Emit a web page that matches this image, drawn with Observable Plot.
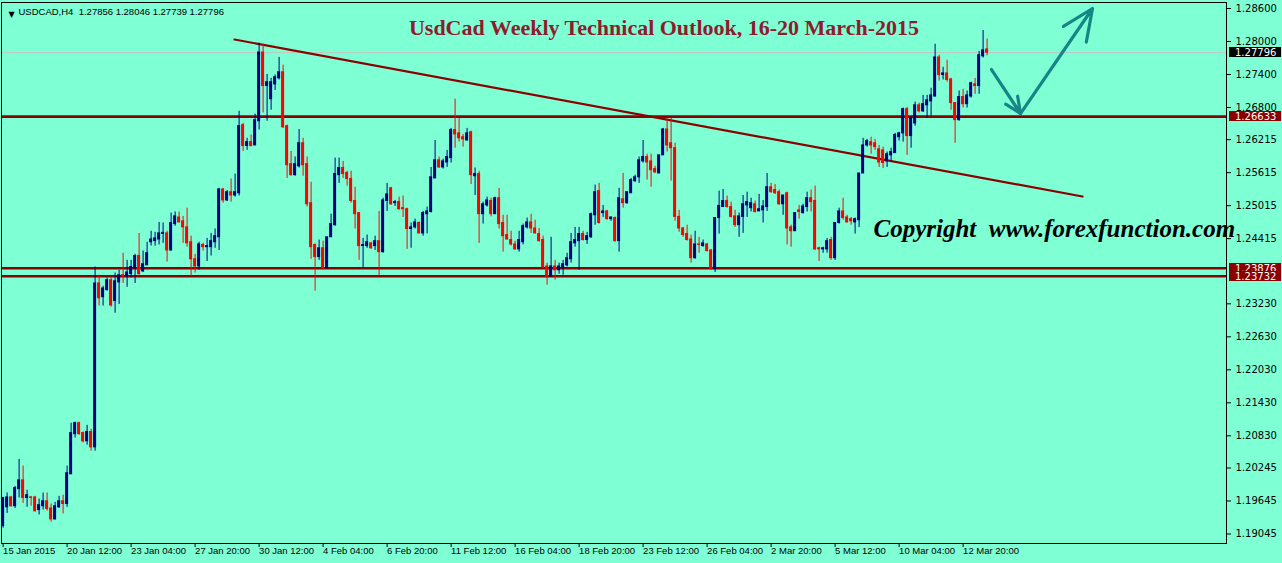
<!DOCTYPE html>
<html><head><meta charset="utf-8">
<script src="https://cdn.jsdelivr.net/npm/d3@7"></script>
<script src="https://cdn.jsdelivr.net/npm/@observablehq/plot@0.6"></script>
<style>
html,body{margin:0;padding:0;background:#7FFFD4;overflow:hidden;}
#chart svg{display:block;}
</style></head>
<body><div id="chart"></div>
<script>
// ---------- DATA (USDCAD H4, 15 Jan 20:00 -> 13 Mar 20:00, 2015) ----------
const opens = [
1.1919,1.1953,1.1971,1.1955,1.1986,1.2002,1.1970,1.1971,1.1971,1.1948,
1.1955,1.1964,1.1951,1.1931,1.1953,1.1964,1.1959,1.2013,1.2086,1.2106,
1.2088,1.2073,1.2090,1.2062,1.2360,1.2335,1.2348,1.2366,1.2328,1.2362,
1.2375,1.2373,1.2377,1.2388,1.2410,1.2382,1.2393,1.2435,1.2437,1.2440,
1.2450,1.2451,1.2420,1.2468,1.2480,1.2473,1.2462,1.2435,1.2404,1.2391,
1.2430,1.2426,1.2426,1.2435,1.2444,1.2531,1.2511,1.2526,1.2520,1.2524,
1.2648,1.2610,1.2617,1.2611,1.2655,1.2780,1.2719,1.2695,1.2722,1.2733,
1.2744,1.2646,1.2577,1.2557,1.2573,1.2615,1.2577,1.2506,1.2430,1.2408,
1.2424,1.2388,1.2444,1.2466,1.2557,1.2570,1.2561,1.2550,1.2510,1.2488,
1.2428,1.2428,1.2433,1.2428,1.2437,1.2417,1.2510,1.2533,1.2506,1.2508,
1.2497,1.2495,1.2459,1.2462,1.2470,1.2451,1.2486,1.2490,1.2551,1.2584,
1.2571,1.2580,1.2588,1.2639,1.2633,1.2626,1.2620,1.2635,1.2555,1.2559,
1.2486,1.2502,1.2510,1.2486,1.2515,1.2470,1.2448,1.2439,1.2431,1.2422,
1.2435,1.2462,1.2471,1.2460,1.2450,1.2439,1.2391,1.2373,1.2391,1.2384,
1.2388,1.2393,1.2404,1.2433,1.2437,1.2450,1.2439,1.2444,1.2484,1.2528,
1.2488,1.2491,1.2477,1.2479,1.2437,1.2513,1.2506,1.2524,1.2546,1.2553,
1.2582,1.2590,1.2582,1.2568,1.2560,1.2593,1.2640,1.2615,1.2606,1.2481,
1.2460,1.2450,1.2440,1.2406,1.2431,1.2428,1.2431,1.2420,1.2386,1.2479,
1.2499,1.2510,1.2499,1.2482,1.2466,1.2481,1.2502,1.2497,1.2504,1.2491,
1.2493,1.2499,1.2535,1.2530,1.2526,1.2504,1.2524,1.2462,1.2455,1.2493,
1.2488,1.2499,1.2515,1.2510,1.2424,1.2422,1.2422,1.2439,1.2406,1.2470,
1.2491,1.2480,1.2477,1.2471,1.2475,1.2560,1.2611,1.2617,1.2615,1.2604,
1.2602,1.2582,1.2593,1.2597,1.2626,1.2633,1.2677,1.2628,1.2651,1.2684,
1.2673,1.2684,1.2691,1.2700,1.2771,1.2739,1.2742,1.2731,1.2688,1.2657,
1.2699,1.2686,1.2700,1.2722,1.2719,1.2773,1.27856];

const highs = [
1.1971,1.1979,1.1973,1.1991,1.2040,1.2028,1.1984,1.1973,1.1973,1.1968,
1.1979,1.1979,1.1959,1.1962,1.1973,1.1975,1.2028,1.2106,1.2108,1.2108,
1.2090,1.2102,1.2095,1.2390,1.2375,1.2355,1.2370,1.2370,1.2379,1.2384,
1.2415,1.2402,1.2402,1.2413,1.2451,1.2419,1.2435,1.2455,1.2453,1.2471,
1.2470,1.2455,1.2488,1.2490,1.2490,1.2482,1.2497,1.2446,1.2413,1.2435,
1.2433,1.2442,1.2451,1.2459,1.2533,1.2533,1.2529,1.2550,1.2559,1.2673,
1.2651,1.2624,1.2630,1.2668,1.2797,1.2795,1.2740,1.2733,1.2739,1.2771,
1.2757,1.2648,1.2600,1.2590,1.2640,1.2624,1.2590,1.2544,1.2432,1.2439,
1.2437,1.2444,1.2486,1.2588,1.2588,1.2582,1.2564,1.2564,1.2535,1.2488,
1.2442,1.2448,1.2435,1.2446,1.2491,1.2515,1.2542,1.2535,1.2511,1.2517,
1.2519,1.2497,1.2470,1.2477,1.2472,1.2491,1.2499,1.2571,1.2620,1.2590,
1.2586,1.2602,1.2642,1.2695,1.2660,1.2631,1.2642,1.2637,1.2570,1.2564,
1.2508,1.2517,1.2515,1.2517,1.2533,1.2484,1.2484,1.2455,1.2437,1.2455,
1.2468,1.2479,1.2486,1.2475,1.2460,1.2446,1.2397,1.2444,1.2402,1.2397,
1.2402,1.2415,1.2451,1.2462,1.2462,1.2455,1.2453,1.2488,1.2539,1.2542,
1.2502,1.2493,1.2481,1.2481,1.2533,1.2560,1.2526,1.2551,1.2557,1.2590,
1.2620,1.2595,1.2595,1.2573,1.2593,1.2642,1.2660,1.2660,1.2615,1.2493,
1.2462,1.2466,1.2448,1.2455,1.2444,1.2439,1.2433,1.2422,1.2479,1.2528,
1.2531,1.2519,1.2508,1.2493,1.2488,1.2520,1.2526,1.2515,1.2510,1.2522,
1.2511,1.2560,1.2542,1.2540,1.2530,1.2520,1.2526,1.2466,1.2488,1.2502,
1.2504,1.2526,1.2530,1.2537,1.2426,1.2426,1.2442,1.2444,1.2470,1.2497,
1.2515,1.2484,1.2480,1.2479,1.2560,1.2624,1.2622,1.2626,1.2622,1.2611,
1.2608,1.2599,1.2606,1.2633,1.2635,1.2679,1.2680,1.2664,1.2690,1.2688,
1.2702,1.2702,1.2715,1.2795,1.2775,1.2753,1.2766,1.2733,1.2688,1.2710,
1.2713,1.2710,1.2726,1.2733,1.2782,1.2820,1.28046];

const lows = [
1.1915,1.1942,1.1953,1.1951,1.1970,1.1960,1.1953,1.1955,1.1944,1.1939,
1.1948,1.1946,1.1926,1.1930,1.1951,1.1941,1.1953,1.2013,1.2079,1.2084,
1.2070,1.2066,1.2055,1.2055,1.2319,1.2319,1.2346,1.2317,1.2306,1.2322,
1.2360,1.2353,1.2370,1.2360,1.2375,1.2380,1.2393,1.2428,1.2428,1.2430,
1.2433,1.2399,1.2419,1.2464,1.2470,1.2433,1.2426,1.2373,1.2379,1.2384,
1.2419,1.2400,1.2410,1.2424,1.2420,1.2506,1.2509,1.2508,1.2517,1.2519,
1.2600,1.2602,1.2608,1.2611,1.2639,1.2670,1.2655,1.2675,1.2711,1.2730,
1.2642,1.2551,1.2555,1.2555,1.2570,1.2555,1.2499,1.2404,1.2346,1.2402,
1.2384,1.2386,1.2444,1.2464,1.2542,1.2551,1.2537,1.2506,1.2459,1.2402,
1.2388,1.2424,1.2422,1.2420,1.2373,1.2415,1.2491,1.2502,1.2500,1.2493,
1.2480,1.2422,1.2424,1.2459,1.2450,1.2446,1.2450,1.2488,1.2551,1.2569,
1.2568,1.2571,1.2579,1.2606,1.2617,1.2608,1.2619,1.2540,1.2520,1.2433,
1.2468,1.2499,1.2481,1.2486,1.2459,1.2417,1.2439,1.2428,1.2420,1.2417,
1.2430,1.2459,1.2451,1.2450,1.2435,1.2388,1.2357,1.2371,1.2366,1.2377,
1.2375,1.2390,1.2397,1.2426,1.2384,1.2437,1.2431,1.2442,1.2466,1.2468,
1.2480,1.2475,1.2473,1.2435,1.2417,1.2497,1.2504,1.2524,1.2544,1.2542,
1.2579,1.2548,1.2535,1.2560,1.2560,1.2593,1.2599,1.2546,1.2473,1.2453,
1.2444,1.2437,1.2397,1.2404,1.2415,1.2426,1.2417,1.2384,1.2380,1.2450,
1.2499,1.2497,1.2479,1.2462,1.2444,1.2451,1.2480,1.2490,1.2488,1.2491,
1.2470,1.2491,1.2524,1.2522,1.2502,1.2484,1.2430,1.2426,1.2455,1.2477,
1.2486,1.2490,1.2490,1.2420,1.2400,1.2415,1.2415,1.2402,1.2402,1.2468,
1.2475,1.2470,1.2466,1.2450,1.2462,1.2560,1.2608,1.2595,1.2602,1.2571,
1.2569,1.2571,1.2580,1.2597,1.2619,1.2617,1.2593,1.2606,1.2646,1.2670,
1.2671,1.2660,1.2664,1.2699,1.2728,1.2730,1.2726,1.2675,1.2615,1.2655,
1.2679,1.2679,1.2697,1.2704,1.2704,1.2770,1.27739];

const closes = [
1.1970,1.1971,1.1955,1.1988,1.2002,1.1970,1.1975,1.1970,1.1946,1.1957,
1.1964,1.1950,1.1931,1.1955,1.1964,1.1959,1.2015,1.2088,1.2106,1.2086,
1.2073,1.2090,1.2062,1.2360,1.2333,1.2351,1.2366,1.2320,1.2364,1.2375,
1.2373,1.2380,1.2390,1.2410,1.2377,1.2395,1.2415,1.2440,1.2442,1.2451,
1.2452,1.2420,1.2470,1.2482,1.2471,1.2462,1.2433,1.2404,1.2391,1.2431,
1.2426,1.2428,1.2437,1.2446,1.2531,1.2511,1.2526,1.2520,1.2526,1.2646,
1.2610,1.2617,1.2610,1.2657,1.2780,1.2719,1.2726,1.2726,1.2735,1.2744,
1.2644,1.2575,1.2557,1.2577,1.2615,1.2575,1.2504,1.2426,1.2408,1.2424,
1.2388,1.2444,1.2468,1.2559,1.2570,1.2559,1.2550,1.2510,1.2486,1.2428,
1.2430,1.2435,1.2424,1.2437,1.2417,1.2511,1.2522,1.2504,1.2508,1.2495,
1.2495,1.2459,1.2462,1.2471,1.2451,1.2488,1.2491,1.2553,1.2584,1.2571,
1.2582,1.2590,1.2639,1.2631,1.2624,1.2622,1.2633,1.2557,1.2559,1.2486,
1.2504,1.2511,1.2486,1.2515,1.2468,1.2446,1.2440,1.2431,1.2422,1.2439,
1.2464,1.2471,1.2460,1.2451,1.2437,1.2389,1.2373,1.2391,1.2384,1.2391,
1.2395,1.2406,1.2435,1.2439,1.2450,1.2439,1.2446,1.2486,1.2526,1.2470,
1.2491,1.2477,1.2480,1.2437,1.2515,1.2506,1.2526,1.2548,1.2553,1.2584,
1.2590,1.2580,1.2566,1.2562,1.2593,1.2640,1.2611,1.2606,1.2481,1.2460,
1.2448,1.2439,1.2406,1.2431,1.2430,1.2433,1.2419,1.2386,1.2479,1.2501,
1.2510,1.2499,1.2481,1.2466,1.2482,1.2504,1.2508,1.2506,1.2490,1.2495,
1.2500,1.2535,1.2526,1.2524,1.2504,1.2520,1.2460,1.2455,1.2488,1.2490,
1.2500,1.2515,1.2508,1.2422,1.2422,1.2424,1.2437,1.2406,1.2470,1.2491,
1.2479,1.2471,1.2473,1.2477,1.2560,1.2611,1.2619,1.2611,1.2608,1.2580,
1.2579,1.2595,1.2599,1.2630,1.2633,1.2677,1.2628,1.2660,1.2684,1.2673,
1.2686,1.2693,1.2702,1.2771,1.2739,1.2742,1.2730,1.2688,1.2657,1.2699,
1.2686,1.2702,1.2724,1.2719,1.2775,1.2784,1.27796];

// x-axis: bar number of each date label and its text
const xTickBars = [0,16,32,48,64,80,96,112,128,144,160,176,192,208,224,240];
const xTickLabels = ["15 Jan 2015","20 Jan 12:00","23 Jan 04:00","27 Jan 20:00","30 Jan 12:00",
  "4 Feb 04:00","6 Feb 20:00","11 Feb 12:00","16 Feb 04:00","18 Feb 20:00","23 Feb 12:00",
  "26 Feb 04:00","2 Mar 20:00","5 Mar 12:00","10 Mar 04:00","12 Mar 20:00"];

// y-axis price ticks
const yTicks = [1.28600,1.28000,1.27400,1.26800,1.26215,1.25615,1.25015,1.24415,
  1.23230,1.22630,1.22030,1.21430,1.20830,1.20245,1.19645,1.19045];

// horizontal support / resistance levels and the last price
const levels = [1.26633, 1.23876, 1.23732];
const lastPrice = 1.27796;

// falling trendline (bar, price)
const trendBars = [57.85, 269.85];
const trendPrices = [1.28036, 1.25181];

// projected path arrows (bar, price)
const pathBars = [247.1, 254.35, 272.35];
const pathPrices = [1.27490, 1.26690, 1.28600];

const headerText = "USDCAD,H4  1.27856 1.28046 1.27739 1.27796";
const titleText = "UsdCad Weekly Technical Outlook, 16-20 March-2015";
const copyrightText = "Copyright  www.forexfunction.com";

// ---------- BUILD ----------
const UP = "#000080", DOWN = "#FF0000", LEVEL = "#8B0000";
const candles = opens.map((o, i) => ({
  i, open: o, high: highs[i], low: lows[i], close: closes[i],
  color: closes[i] >= o ? UP : DOWN
}));
const trend = trendBars.map((b, k) => ({b, p: trendPrices[k]}));
const arrows = [0, 1].map(k => ({
  x1: pathBars[k], y1: pathPrices[k], x2: pathBars[k + 1], y2: pathPrices[k + 1]
}));
const tickLabelOf = new Map(xTickBars.map((b, k) => [b, xTickLabels[k]]));

const chart = Plot.plot({
  width: 1282, height: 563,
  marginLeft: 1, marginRight: 56, marginTop: 2, marginBottom: 20,
  style: {background: "#7FFFD4", fontFamily: "DejaVu Sans", overflow: "visible"},
  color: {type: "identity"},
  x: {domain: [-0.4, 305.85], axis: null},
  y: {domain: [1.18872, 1.28709], axis: null},
  marks: [
    Plot.ruleY([lastPrice], {stroke: "#c8c0c0", strokeWidth: 1}),
    Plot.ruleY(levels, {stroke: LEVEL, strokeWidth: 2.6}),
    Plot.line(trend, {x: "b", y: "p", stroke: LEVEL, strokeWidth: 2.2}),
    Plot.ruleX(candles, {x: "i", y1: "low", y2: "high", stroke: "color", strokeWidth: 1}),
    Plot.rect(candles, {
      x1: d => d.i - 0.38, x2: d => d.i + 0.38, y1: "open", y2: "close",
      fill: "color", insetTop: -0.5, insetBottom: -0.5
    }),
    Plot.arrow(arrows, {x1: "x1", y1: "y1", x2: "x2", y2: "y2",
      stroke: "#168585", strokeWidth: 3.2, headLength: 16, headAngle: 48}),
    Plot.axisY(yTicks, {anchor: "right", tickSize: 4, tickPadding: 5,
      tickFormat: d => d.toFixed(5), fontSize: 10, fill: "black"}),
    Plot.axisX(xTickBars, {anchor: "bottom", tickSize: 4, tickPadding: 0,
      tickFormat: d => tickLabelOf.get(d), textAnchor: "start", fontSize: 9.5,
      fontFamily: "Liberation Sans", fill: "black"}),
    Plot.frame({stroke: "black"}),
    Plot.text(["▼"], {frameAnchor: "top-left", dx: 7, dy: 9, fontSize: 8, fill: "black"}),
    Plot.text([headerText], {frameAnchor: "top-left", dx: 17, dy: 9, textAnchor: "start",
      lineAnchor: "middle", fontSize: 9.5, fontFamily: "Liberation Sans", fill: "black"}),
    Plot.text([titleText], {frameAnchor: "top", dx: 50, dy: 25, lineAnchor: "middle",
      fontSize: 22, fontWeight: "bold", fontFamily: "Liberation Serif", fill: "#8E1B2E"}),
    Plot.text([copyrightText], {frameAnchor: "top-left", dx: 872, dy: 226, textAnchor: "start",
      lineAnchor: "middle", fontSize: 25, fontStyle: "italic", fontWeight: "bold",
      fontFamily: "Liberation Serif", fill: "black"})
  ]
});

// price tags on the right axis, positioned with Plot's y scale
const yScale = chart.scale("y");
const svg = d3.select(chart);
const tags = [{v: lastPrice, bg: "#000000"}].concat(levels.map(v => ({v, bg: LEVEL})));
const g = svg.append("g").attr("font-family", "DejaVu Sans").attr("font-size", 10)
  .attr("text-anchor", "start");
tags.forEach(t => {
  const yy = Math.round(yScale.apply(t.v));
  g.append("rect").attr("x", 1229).attr("y", yy - 5).attr("width", 52).attr("height", 10).attr("fill", t.bg);
  g.append("text").attr("x", 1235).attr("y", yy).attr("dy", "0.35em").attr("fill", "white").text(t.v.toFixed(5));
});

document.getElementById("chart").appendChild(chart);
</script>
</body></html>
